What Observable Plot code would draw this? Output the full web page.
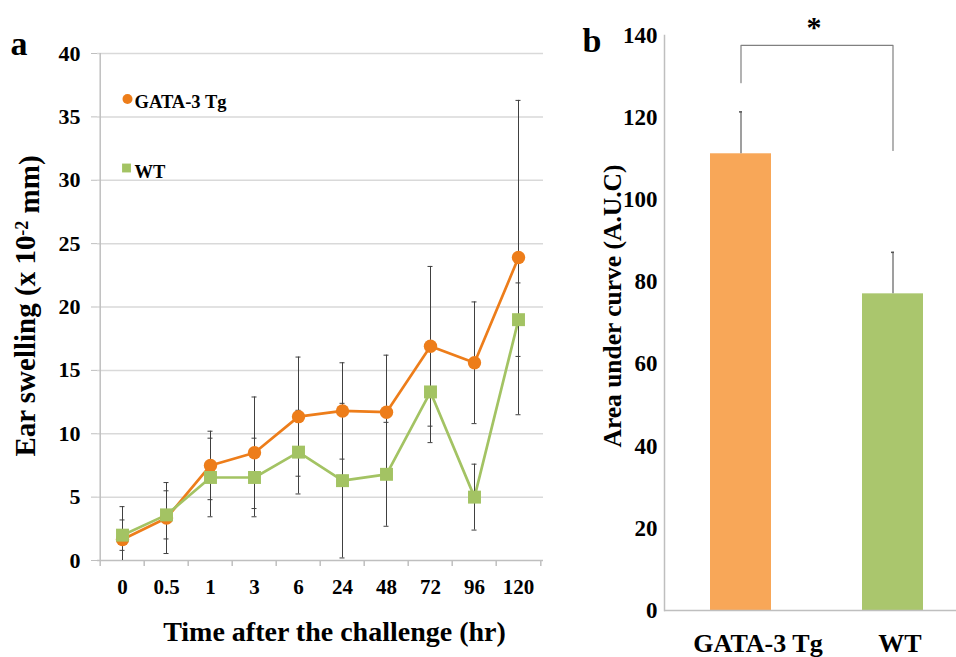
<!DOCTYPE html>
<html><head><meta charset="utf-8">
<script src="https://cdn.jsdelivr.net/npm/d3@7"></script>
<script src="https://cdn.jsdelivr.net/npm/@observablehq/plot@0.6"></script>
<style>
body{margin:0;background:#fff;}
#wrap{position:relative;width:956px;height:657px;overflow:hidden;background:#fff;}
#pa{position:absolute;left:0;top:0;}
#pb{position:absolute;left:580px;top:0;}
svg{overflow:visible;}
</style></head><body><div id="wrap"><div id="pa"></div><div id="pb"></div></div>
<script>
// ---- Panel a data ----
const timePoints = ["0","0.5","1","3","6","24","48","72","96","120"];
const gataMean = [1.65, 3.35, 7.5, 8.5, 11.35, 11.8, 11.7, 16.9, 15.6, 23.9];
const gataErr  = [2.6, 2.8, 2.7, 4.4, 4.7, 3.8, 4.5, 6.3, 4.8, 12.4];
const wtMean   = [2.0, 3.6, 6.55, 6.55, 8.55, 6.3, 6.8, 13.3, 5.0, 19.0];
const wtErr    = [1.2, 1.9, 3.1, 3.1, 3.3, 6.1, 4.1, 4.0, 2.6, 2.9];
const seriesNames = ["GATA-3 Tg", "WT"];
const yTicksA = [0, 5, 10, 15, 20, 25, 30, 35, 40];
// ---- Panel b data ----
const aucGroups = ["GATA-3 Tg", "WT"];
const aucMean = [111.2, 77.1];
const aucErr  = [10.2, 10.1];
const yTicksB = [0, 20, 40, 60, 80, 100, 120, 140];
const sigLabel = "*";
const sigBracketTop = 137.6;
const sigBracketEnds = [128.5, 112];

const ORANGE = "#ED7D1A", GREEN = "#A3C363";
const BAR_ORANGE = "#F8A758", BAR_GREEN = "#AAC66D";
const AXIS_GRAY = "#bfbfbf", GRID = "#d9d9d9", ERR = "#404040";
const FONT = "'Liberation Serif','Times New Roman',serif";

const gRows = timePoints.map((t, i) => ({t, v: gataMean[i], e: gataErr[i]}));
const wRows = timePoints.map((t, i) => ({t, v: wtMean[i], e: wtErr[i]}));
const caps = rows => rows.flatMap(d => [d.v + d.e, d.v - d.e].filter(y => y >= 0).map(y => ({t: d.t, y})));

const WA = 580, mlA = 97, mrA = 37;
const stepA = (WA - mlA - mrA) / timePoints.length;

const chartA = Plot.plot({
  width: WA, height: 657,
  marginLeft: mlA, marginRight: mrA, marginTop: 53, marginBottom: 97,
  style: {fontFamily: FONT, color: "black", background: "transparent", overflow: "visible"},
  x: {type: "point", domain: timePoints, padding: 0.5},
  y: {domain: [0, 40]},
  marks: [
    Plot.gridY(yTicksA.filter(d => d > 0), {stroke: GRID, strokeOpacity: 1, strokeWidth: 1.5}),
    Plot.ruleY([0], {stroke: AXIS_GRAY, strokeWidth: 1.5}),
    Plot.ruleX([timePoints[0]], {x: d => d, dx: -stepA / 2, stroke: AXIS_GRAY, strokeWidth: 1.5}),
    Plot.ruleX(timePoints, {x: d => d, dx: -stepA / 2, y1: 0, y2: 0, insetBottom: -6, stroke: AXIS_GRAY, strokeWidth: 1.5}),
    Plot.ruleX([timePoints[timePoints.length - 1]], {x: d => d, dx: stepA / 2, y1: 0, y2: 0, insetBottom: -6, stroke: AXIS_GRAY, strokeWidth: 1.5}),
    Plot.axisY(yTicksA, {tickSize: 6, tickPadding: 11, stroke: AXIS_GRAY, fill: "black", fontSize: 22, fontWeight: "bold", label: null}),
    Plot.axisX(timePoints, {tickSize: 0, tickPadding: 19, fill: "black", fontSize: 21, fontWeight: "bold", label: null}),
    Plot.line(gRows, {x: "t", y: "v", stroke: ORANGE, strokeWidth: 2.7}),
    Plot.line(wRows, {x: "t", y: "v", stroke: GREEN, strokeWidth: 2.7}),
    Plot.ruleX(gRows, {x: "t", y1: d => Math.max(0, d.v - d.e), y2: d => d.v + d.e, stroke: ERR, strokeWidth: 1}),
    Plot.ruleX(wRows, {x: "t", y1: d => Math.max(0, d.v - d.e), y2: d => d.v + d.e, stroke: ERR, strokeWidth: 1}),
    Plot.ruleY(caps(gRows), {y: "y", x1: "t", x2: "t", insetLeft: -2.5, insetRight: -2.5, stroke: ERR, strokeWidth: 1}),
    Plot.ruleY(caps(wRows), {y: "y", x1: "t", x2: "t", insetLeft: -2.5, insetRight: -2.5, stroke: ERR, strokeWidth: 1}),
    Plot.dot(gRows, {x: "t", y: "v", r: 6.7, fill: ORANGE, symbol: "circle"}),
    Plot.dot(wRows, {x: "t", y: "v", r: 7.3, fill: GREEN, symbol: "square"}),
    // in-plot legend
    Plot.dot([seriesNames[0]], {frameAnchor: "top-left", dx: 30, dy: 45.5, r: 5, fill: ORANGE, symbol: "circle"}),
    Plot.text([seriesNames[0]], {text: d => d, frameAnchor: "top-left", dx: 37, dy: 48.5, textAnchor: "start", lineAnchor: "middle", fontSize: 18.5, fontWeight: "bold", fill: "black"}),
    Plot.dot([seriesNames[1]], {frameAnchor: "top-left", dx: 29, dy: 114.5, r: 5, fill: GREEN, symbol: "square"}),
    Plot.text([seriesNames[1]], {text: d => d, frameAnchor: "top-left", dx: 37, dy: 118.5, textAnchor: "start", lineAnchor: "middle", fontSize: 18.5, fontWeight: "bold", fill: "black"}),
    // titles
    Plot.text(["Ear swelling (x 10-2 mm)"], {text: d => d, frameAnchor: "left", dx: -72, dy: -1, rotate: -90, textAnchor: "middle", lineAnchor: "middle", fontSize: 29, fontWeight: "bold", fill: "black"}),
    Plot.text(["Time after the challenge (hr)"], {text: d => d, frameAnchor: "bottom", dx: 14, dy: 72, textAnchor: "middle", lineAnchor: "middle", fontSize: 28, fontWeight: "bold", fill: "black"}),
    Plot.text(["a"], {text: d => d, frameAnchor: "top-left", dx: -87, dy: -9, textAnchor: "start", lineAnchor: "middle", fontSize: 34, fontWeight: "bold", fill: "black"})
  ]
});
document.getElementById("pa").appendChild(chartA);

// superscript in y label
chartA.querySelectorAll("text").forEach(t => {
  if (t.textContent === "Ear swelling (x 10-2 mm)") {
    const ns = "http://www.w3.org/2000/svg";
    t.textContent = "Ear swelling (x 10";
    const s = document.createElementNS(ns, "tspan");
    s.setAttribute("dy", "-0.4em"); s.setAttribute("font-size", "18");
    s.textContent = "-2";
    const r = document.createElementNS(ns, "tspan");
    r.setAttribute("dy", "0.4em");
    r.textContent = " mm)";
    t.appendChild(s); t.appendChild(r);
  }
});

// ---- Panel b ----
const aucRows = aucGroups.map((g, i) => ({g, v: aucMean[i], e: aucErr[i]}));
const bracket = [
  {g: aucGroups[0], y: sigBracketEnds[0]},
  {g: aucGroups[0], y: sigBracketTop},
  {g: aucGroups[1], y: sigBracketTop},
  {g: aucGroups[1], y: sigBracketEnds[1]}
];
const mlB = 84;
const bandW = 61;
const chartB = Plot.plot({
  width: 376, height: 657,
  marginLeft: mlB, marginRight: 0, marginTop: 35, marginBottom: 47,
  style: {fontFamily: FONT, color: "black", background: "transparent", overflow: "visible"},
  x: {type: "band", domain: aucGroups, range: [mlB, mlB + 305], paddingInner: 0.6, paddingOuter: 0.3, axis: null},
  y: {domain: [0, 140], axis: null},
  color: {domain: aucGroups, range: [BAR_ORANGE, BAR_GREEN]},
  marks: [
    Plot.frame({anchor: "left", stroke: AXIS_GRAY, strokeWidth: 1.5}),
    Plot.barY(aucRows, {x: "g", y: "v", fill: "g"}),
    Plot.ruleY([0], {stroke: AXIS_GRAY, strokeWidth: 1.5}),
    Plot.ruleX(aucRows, {x: "g", y1: "v", y2: d => d.v + d.e, stroke: "#7f7f7f", strokeWidth: 1.5}),
    Plot.tickY(aucRows, {x: "g", y: d => d.v + d.e, insetLeft: bandW / 2 - 1.5, insetRight: bandW / 2 - 1.5, stroke: "#555", strokeWidth: 1.5}),
    Plot.line(bracket, {x: "g", y: "y", stroke: "#808080", strokeWidth: 1.2}),
    Plot.axisY(yTicksB, {tickSize: 0, tickPadding: 7, fill: "black", fontSize: 23, fontWeight: "bold", label: null}),
    Plot.text([aucRows[0]], {x: "g", text: "g", frameAnchor: "bottom", dx: 17, dy: 33, textAnchor: "middle", lineAnchor: "middle", fontSize: 26, fontWeight: "bold", fill: "black"}),
    Plot.text([aucRows[1]], {x: "g", text: "g", frameAnchor: "bottom", dx: 7, dy: 33, textAnchor: "middle", lineAnchor: "middle", fontSize: 26, fontWeight: "bold", fill: "black"}),
    Plot.text(["Area under curve (A.U.C)"], {text: d => d, frameAnchor: "left", dx: -52, dy: -17, rotate: -90, textAnchor: "middle", lineAnchor: "middle", fontSize: 25.5, fontWeight: "bold", fill: "black"}),
    Plot.text([sigLabel], {text: d => d, frameAnchor: "top", dx: 3.5, dy: -8.5, textAnchor: "middle", lineAnchor: "middle", fontSize: 30, fontWeight: "bold", fill: "black"}),
    Plot.text(["b"], {text: d => d, frameAnchor: "top-left", dx: -82, dy: 6, textAnchor: "start", lineAnchor: "middle", fontSize: 34, fontWeight: "bold", fill: "black"})
  ]
});
document.getElementById("pb").appendChild(chartB);
</script>
</body></html>
